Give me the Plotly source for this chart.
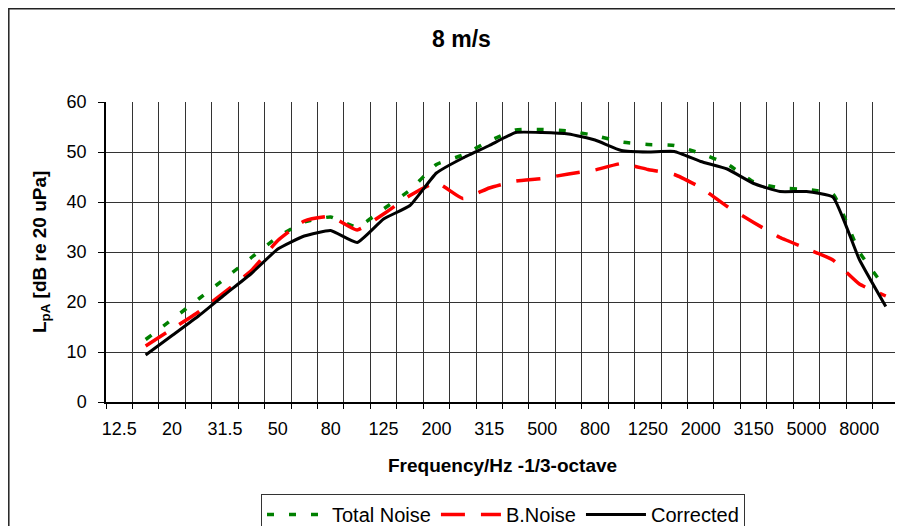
import plotly.graph_objects as go

categories = ["12.5", "16", "20", "25", "31.5", "40", "50", "63", "80", "100",
              "125", "160", "200", "250", "315", "400", "500", "630", "800", "1000",
              "1250", "1600", "2000", "2500", "3150", "4000", "5000", "6300", "8000", "10000"]
tick_labels = ["12.5", "", "20", "", "31.5", "", "50", "", "80", "",
               "125", "", "200", "", "315", "", "500", "", "800", "",
               "1250", "", "2000", "", "3150", "", "5000", "", "8000", ""]
data_freqs = categories[1:]

total_noise = [12.5, 16.5, 20.6, 24.7, 28.9, 33.0, 36.0, 37.0, 35.0, 38.6,
               42.4, 47.5, 49.4, 52.2, 54.4, 54.5, 54.2, 53.3, 52.0, 51.5,
               51.3, 49.7, 47.6, 44.0, 42.8, 42.5, 41.6, 30.0, 22.7]
b_noise = [11.2, 14.6, 18.0, 22.0, 26.3, 32.3, 36.2, 37.1, 34.4, 37.6,
           41.3, 43.9, 40.7, 42.8, 44.2, 44.7, 45.6, 46.4, 47.7, 46.5,
           45.5, 42.9, 39.1, 35.9, 32.9, 30.7, 28.4, 23.6, 21.2]
corrected = [9.4, 13.3, 17.2, 21.5, 25.7, 30.6, 33.2, 34.3, 31.9, 36.6,
             39.3, 45.8, 48.8, 51.3, 53.9, 53.9, 53.6, 52.4, 50.3, 50.0,
             50.1, 48.1, 46.6, 43.7, 42.1, 42.1, 41.0, 28.5, 19.1]

fig = go.Figure()
fig.add_trace(go.Scatter(x=data_freqs, y=total_noise, mode="lines", name="Total Noise",
                         line=dict(color="#008000", width=3.5, dash="7px,15px",
                                   shape="spline", smoothing=0.4)))
fig.add_trace(go.Scatter(x=data_freqs, y=b_noise, mode="lines", name="B.Noise",
                         line=dict(color="#ff0000", width=3.5, dash="24px,16px",
                                   shape="spline", smoothing=0.4)))
fig.add_trace(go.Scatter(x=data_freqs, y=corrected, mode="lines", name="Corrected",
                         line=dict(color="#000000", width=3,
                                   shape="spline", smoothing=0.4)))

# page body has an 8px margin: compensate so the plot lands where the reference has it
OFF = 8
W, H = 903, 526
PL, PT, PR, PB = 106, 102, 899, 402   # target plot area in screenshot pixels
pw, ph = PR - PL, PB - PT
L, T = PL - OFF, PT - OFF
R, B = W - L - pw, H - T - ph

def px(x):
    return (x - PL) / pw

def py(y):
    return (PB - y) / ph

fig.update_layout(
    width=W, height=H,
    margin=dict(l=L, r=R, t=T, b=B, autoexpand=False),
    paper_bgcolor="white", plot_bgcolor="white",
    font=dict(family="Arial, Liberation Sans, sans-serif", color="black"),
    showlegend=True,
    legend=dict(orientation="h", x=px(503), xanchor="center", y=py(494), yanchor="top",
                font=dict(size=20), bordercolor="#333", borderwidth=1, bgcolor="white",
                itemwidth=60, tracegroupgap=0),
    xaxis=dict(type="category", categoryorder="array", categoryarray=categories,
               range=[-0.5, len(categories) - 0.5],
               tickmode="array", tickvals=categories, ticktext=tick_labels,
               tickson="boundaries", ticks="outside", ticklen=5, tickcolor="black",
               tickangle=0, automargin=False,
               showgrid=True, gridcolor="#333", gridwidth=1,
               showline=True, linecolor="black", linewidth=1.5,
               tickfont=dict(size=18), ticklabelstandoff=10, zeroline=False),
    yaxis=dict(range=[0, 60], dtick=10, ticks="outside", ticklen=6, tickcolor="black",
               automargin=False,
               showgrid=True, gridcolor="#333", gridwidth=1,
               showline=True, linecolor="black", linewidth=1.5,
               tickfont=dict(size=18), ticklabelstandoff=8, zeroline=False),
    annotations=[
        dict(text="<b>8 m/s</b>", x=px(461), y=py(38.5), xref="paper", yref="paper",
             showarrow=False, font=dict(size=23), xanchor="center", yanchor="middle"),
        dict(text="<b>Frequency/Hz -1/3-octave</b>", x=px(502), y=py(465), xref="paper",
             yref="paper", showarrow=False, font=dict(size=19), xanchor="center",
             yanchor="middle"),
        dict(text="<b>L<sub>pA</sub> [dB re 20 uPa]</b>", x=px(41), y=py(252), xref="paper",
             yref="paper", showarrow=False, font=dict(size=19), textangle=-90,
             xanchor="center", yanchor="middle"),
    ],
    shapes=[
        dict(type="rect", xref="paper", yref="paper", x0=px(8.8), y0=py(540), x1=px(915),
             y1=py(8.8), line=dict(color="#222", width=1.5), layer="below"),
        dict(type="line", xref="paper", yref="paper", x0=1, x1=1, y0=0, y1=1,
             line=dict(color="#333", width=1)),
    ],
)

fig.write_html("out.html")
